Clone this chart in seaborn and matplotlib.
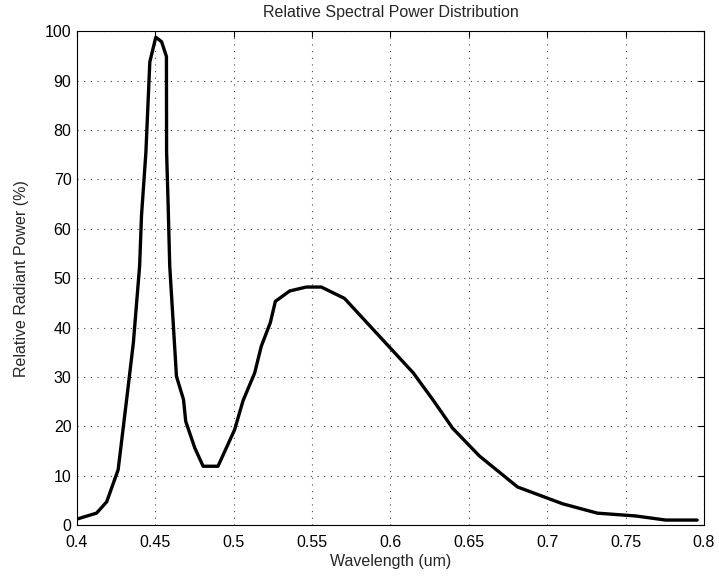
import matplotlib
matplotlib.use("Agg")
import matplotlib.pyplot as plt
import seaborn as sns
import pandas as pd

wavelength = [0.400, 0.4125, 0.419, 0.4263, 0.4317, 0.436, 0.440, 0.4412, 0.444, 0.4465,
              0.4503, 0.454, 0.4571, 0.4572, 0.4582, 0.4592, 0.4635, 0.468, 0.4694, 0.4752,
              0.4805, 0.490, 0.5006, 0.506, 0.5134, 0.5176, 0.5234, 0.5266, 0.5357, 0.5463,
              0.5559, 0.5707, 0.6146, 0.627, 0.6397, 0.6567, 0.6811, 0.7098, 0.732, 0.7565,
              0.7756, 0.7957]
power = [1.2, 2.4, 4.7, 11.2, 25.4, 36.9, 52.5, 62.7, 75.5, 93.8,
         98.8, 97.9, 94.9, 75.6, 64.7, 52.5, 30.1, 25.4, 21.0, 15.6,
         11.9, 11.9, 19.3, 25.2, 30.8, 36.2, 41.0, 45.3, 47.4, 48.2,
         48.2, 45.9, 30.8, 25.4, 19.6, 14.0, 7.7, 4.3, 2.4, 1.83,
         1.0, 1.0]

x_ticks = [0.4, 0.45, 0.5, 0.55, 0.6, 0.65, 0.7, 0.75, 0.8]
x_tick_labels = ["0.4", "0.45", "0.5", "0.55", "0.6", "0.65", "0.7", "0.75", "0.8"]
y_ticks = [0, 10, 20, 30, 40, 50, 60, 70, 80, 90, 100]

df = pd.DataFrame({"Wavelength": wavelength, "Power": power})

fs = 11.5
sns.set_style("white")
plt.rcParams['font.family'] = ['Liberation Sans', 'DejaVu Sans']

fig = plt.figure(figsize=(7.19, 5.81), dpi=100)
ax = fig.add_axes([0.107, 0.0964, 0.872, 0.8497])

sns.lineplot(data=df, x="Wavelength", y="Power", ax=ax, color="black",
             linewidth=2.4, sort=False)
for ln in ax.get_lines():
    ln.set_solid_joinstyle("round")

ax.set_xlim(0.4, 0.8)
ax.set_ylim(0, 100)
ax.set_xticks(x_ticks)
ax.set_xticklabels(x_tick_labels)
ax.set_yticks(y_ticks)
ax.grid(True, color="#444444", linestyle=(0, (1, 5)), linewidth=0.8)
ax.tick_params(axis="x", direction="in", top=True, labelsize=fs, length=4,
               width=0.8, colors="black", pad=7)
ax.tick_params(axis="y", direction="in", right=True, labelsize=fs, length=4,
               width=0.8, colors="black", pad=4)
for s in ax.spines.values():
    s.set_color("black")
    s.set_linewidth(0.8)

ax.set_xlabel("Wavelength (um)", fontsize=fs, labelpad=3)
ax.set_ylabel("Relative Radiant Power (%)", fontsize=fs, labelpad=11)
ax.set_title("Relative Spectral Power Distribution", fontsize=fs, pad=10)

fig.savefig("out.png", dpi=100)
